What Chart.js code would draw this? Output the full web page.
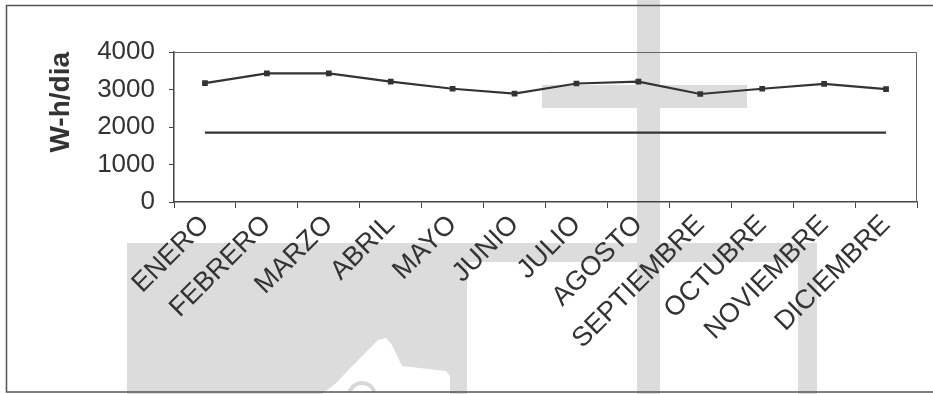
<!DOCTYPE html>
<html>
<head>
<meta charset="utf-8">
<script src="https://cdn.jsdelivr.net/npm/chart.js@4/dist/chart.umd.min.js"></script>
<style>
  html, body { margin: 0; padding: 0; background: #fff; }
  #wrap { width: 933px; height: 394px; }
</style>
</head>
<body>
<div id="wrap"><canvas id="c" width="933" height="394"></canvas></div>
<script>
// Monthly energy: generation vs. constant daily demand (W-h/dia)
const meses = ['ENERO', 'FEBRERO', 'MARZO', 'ABRIL', 'MAYO', 'JUNIO', 'JULIO',
               'AGOSTO', 'SEPTIEMBRE', 'OCTUBRE', 'NOVIEMBRE', 'DICIEMBRE'];
const energiaGenerada = [3170, 3430, 3430, 3210, 3020, 2890, 3160, 3210, 2880, 3020, 3150, 3010];
const consumoDiario = [1850, 1850, 1850, 1850, 1850, 1850, 1850, 1850, 1850, 1850, 1850, 1850];
const yTicks = [0, 1000, 2000, 3000, 4000];

const FONT = '"Liberation Sans", Arial, Helvetica, sans-serif';
const INK = '#333333';

// Page background: white sheet, light grey emblem blocks and the outer frame
const fondo = {
  id: 'fondo',
  beforeDraw(chart) {
    const ctx = chart.ctx;
    ctx.save();
    ctx.fillStyle = '#ffffff';
    ctx.fillRect(0, 0, chart.width, chart.height);
    ctx.fillStyle = '#dcdcdc';
    ctx.fillRect(637, 0, 23, 394);      // tall vertical bar
    ctx.fillRect(542, 85, 205, 23);     // short cross bar
    ctx.fillRect(127, 243, 690, 19);    // lower band
    ctx.fillRect(127, 243, 340, 151);   // lower left block
    ctx.fillRect(798, 243, 19, 151);    // lower right post
    // white star shape inside the lower left block
    ctx.fillStyle = '#ffffff';
    ctx.beginPath();
    ctx.moveTo(322, 394);
    ctx.lineTo(335, 384);
    ctx.lineTo(366, 352);
    ctx.lineTo(378, 340);
    ctx.lineTo(386, 338);
    ctx.lineTo(392, 345);
    ctx.lineTo(402, 366);
    ctx.lineTo(446, 371);
    ctx.lineTo(450, 376);
    ctx.lineTo(450, 394);
    ctx.closePath();
    ctx.fill();
    ctx.strokeStyle = '#d8d8d8';
    ctx.lineWidth = 4;
    ctx.beginPath();
    ctx.arc(362, 396, 13, Math.PI * 1.1, Math.PI * 1.9);
    ctx.stroke();
    // outer frame
    ctx.strokeStyle = '#555555';
    ctx.lineWidth = 1.5;
    ctx.strokeRect(6.5, 5.5, 940, 386.5);
    ctx.restore();
  },
  beforeDatasetsDraw(chart) {
    const a = chart.chartArea;
    const ctx = chart.ctx;
    ctx.save();
    ctx.strokeStyle = '#666666';
    ctx.lineWidth = 1;
    ctx.beginPath();
    ctx.moveTo(a.left, a.top + 0.5);
    ctx.lineTo(a.right - 0.5, a.top + 0.5);
    ctx.lineTo(a.right - 0.5, a.bottom);
    ctx.stroke();
    ctx.restore();
  }
};

new Chart(document.getElementById('c'), {
  type: 'line',
  data: {
    labels: meses,
    datasets: [
      {
        label: 'Energía generada',
        data: energiaGenerada,
        borderColor: INK,
        backgroundColor: INK,
        borderWidth: 2.2,
        pointStyle: 'rect',
        pointRadius: 2.5,
        pointBackgroundColor: INK,
        pointBorderColor: INK,
        tension: 0
      },
      {
        label: 'Consumo',
        data: consumoDiario,
        borderColor: INK,
        borderWidth: 2.2,
        pointRadius: 0,
        tension: 0
      }
    ]
  },
  options: {
    responsive: false,
    animation: false,
    devicePixelRatio: 1,
    layout: { padding: { left: 40, top: 52, right: 16, bottom: 0 } },
    plugins: {
      legend: { display: false },
      tooltip: { enabled: false }
    },
    scales: {
      x: {
        type: 'category',
        offset: true,
        grid: {
          offset: true,
          drawOnChartArea: false,
          drawTicks: true,
          tickLength: 6,
          color: '#444444'
        },
        border: { display: true, color: '#444444', width: 1.5 },
        ticks: {
          autoSkip: false,
          maxRotation: 45,
          minRotation: 45,
          padding: 1,
          color: INK,
          font: { family: FONT, size: 27 }
        },
        afterFit(scale) { scale.height = 192; }
      },
      y: {
        type: 'linear',
        min: 0,
        max: 4000,
        afterBuildTicks(scale) { scale.ticks = yTicks.map(v => ({ value: v })); },
        grid: {
          drawOnChartArea: false,
          drawTicks: true,
          tickLength: 5,
          color: '#444444'
        },
        border: { display: true, color: '#444444', width: 1.5 },
        ticks: {
          padding: 14,
          color: INK,
          font: { family: FONT, size: 26 },
          callback: v => String(v)
        },
        title: {
          display: true,
          text: 'W-h/dia',
          align: 'end',
          color: INK,
          padding: { top: 4, bottom: 4 },
          font: { family: FONT, size: 28, weight: 'bold' }
        },
        afterFit(scale) { scale.width = 134; }
      }
    }
  },
  plugins: [fondo]
});
</script>
</body>
</html>
